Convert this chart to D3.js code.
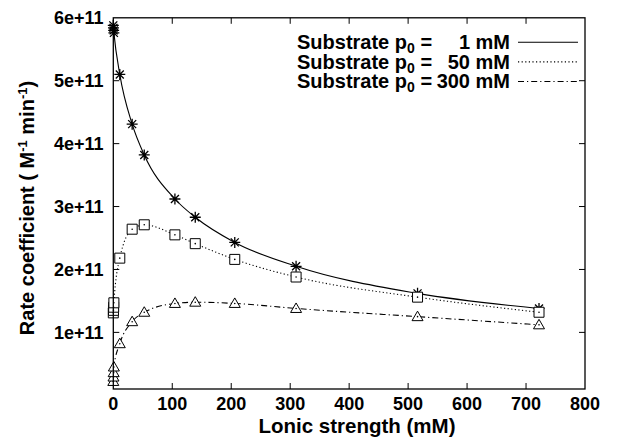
<!DOCTYPE html>
<html>
<head>
<meta charset="utf-8">
<script src="https://cdn.jsdelivr.net/npm/d3@7"></script>
<style>
  body { margin: 0; background: #fff; }
  text { font-family: "Liberation Sans", Arial, sans-serif; font-weight: bold; fill: #000; }
</style>
</head>
<body>
<div id="chart"></div>
<script>
// ionic strength (mM), the first four sit on top of each other near 0
const ionic = [0, 0.3, 0.6, 1, 11, 32, 52.5, 104.5, 139, 206, 310, 516, 722];

// rate coefficients for each substrate concentration
const rate1mM = [5.88e11, 5.84e11, 5.8e11, 5.76e11, 5.1e11, 4.31e11, 3.82e11, 3.12e11, 2.83e11, 2.43e11, 2.05e11, 1.62e11, 1.38e11];
const rate50mM = [1.31e11, 1.35e11, 1.4e11, 1.47e11, 2.18e11, 2.64e11, 2.71e11, 2.55e11, 2.41e11, 2.16e11, 1.88e11, 1.56e11, 1.32e11];
const rate300mM = [0.22e11, 0.29e11, 0.36e11, 0.45e11, 0.82e11, 1.17e11, 1.32e11, 1.46e11, 1.48e11, 1.46e11, 1.38e11, 1.25e11, 1.12e11];

const xTicks = [0, 100, 200, 300, 400, 500, 600, 700, 800];
const yTicks = [1e11, 2e11, 3e11, 4e11, 5e11, 6e11];
const legendValues = ["1 mM", "50 mM", "300 mM"];

const width = 618;
const height = 445;
const mLeft = 113.3, mRight = 585, mTop = 17.8, mBottom = 389;

const svg = d3
  .select("#chart")
  .append("svg")
  .attr("width", width)
  .attr("height", height);

const x = d3.scaleLinear().domain([0, 800]).range([mLeft, mRight]);
const y = d3.scaleLinear().domain([1e10, 6e11]).range([mBottom, mTop]);

// ticks, inward on all four sides
const tickLen = 6;
svg.selectAll(".xt")
  .data(xTicks.slice(1, -1))
  .enter()
  .append("path")
  .attr("d", (d) => `M${x(d)},${mBottom}v${-tickLen}M${x(d)},${mTop}v${tickLen}`)
  .attr("stroke", "#000")
  .attr("stroke-width", 1);

svg.selectAll(".yt")
  .data(yTicks.filter((d) => d < 6e11))
  .enter()
  .append("path")
  .attr("d", (d) => `M${mLeft},${y(d)}h${tickLen}M${mRight},${y(d)}h${-tickLen}`)
  .attr("stroke", "#000")
  .attr("stroke-width", 1);

svg.selectAll(".xl")
  .data(xTicks)
  .enter()
  .append("text")
  .attr("x", (d) => x(d))
  .attr("y", 410)
  .attr("text-anchor", "middle")
  .style("font-size", "18px")
  .text((d) => d);

svg.selectAll(".yl")
  .data(yTicks)
  .enter()
  .append("text")
  .attr("x", 103.5)
  .attr("y", (d) => y(d) + 6.5)
  .attr("text-anchor", "end")
  .style("font-size", "18px")
  .text((d) => d / 1e11 + "e+11");

// axis titles
svg.append("text")
  .attr("x", 357)
  .attr("y", 432.5)
  .attr("text-anchor", "middle")
  .style("font-size", "20.5px")
  .text("Lonic strength (mM)");

const yTitle = svg.append("text")
  .attr("transform", "translate(34,208) rotate(-90)")
  .attr("text-anchor", "middle")
  .style("font-size", "20px");
yTitle.append("tspan").text("Rate coefficient ( M");
yTitle.append("tspan").attr("dy", -7).style("font-size", "13px").text("-1");
yTitle.append("tspan").attr("dy", 7).text(" min");
yTitle.append("tspan").attr("dy", -7).style("font-size", "13px").text("-1");
yTitle.append("tspan").attr("dy", 7).text(")");

// series
const series = [
  { values: rate1mM, dash: null, marker: "star" },
  { values: rate50mM, dash: "1.2,2.4", marker: "square" },
  { values: rate300mM, dash: "6,3,1.2,3", marker: "triangle" },
];

const line = d3
  .line()
  .x((d) => x(d[0]))
  .y((d) => y(d[1]))
  .curve(d3.curveMonotoneX);

const markerPath = {
  star: "M-5.5,0H5.5M0,-5.5V5.5M-4,-4L4,4M-4,4L4,-4",
  square: "M-5,-5H5V5H-5Z",
  triangle: "M0,-5.5L5.5,4H-5.5Z",
};

series.forEach(function (s) {
  const pts = ionic.map((v, i) => [v, s.values[i]]);
  svg.append("path")
    .attr("d", line(pts))
    .attr("fill", "none")
    .attr("stroke", "#000")
    .attr("stroke-width", 1.1)
    .attr("stroke-dasharray", s.dash);

  const g = svg.append("g");
  g.selectAll("path")
    .data(pts)
    .enter()
    .append("path")
    .attr("transform", (d) => "translate(" + x(d[0]) + "," + y(d[1]) + ")")
    .attr("d", markerPath[s.marker])
    .attr("fill", s.marker === "star" ? "none" : "#fff")
    .attr("stroke", "#000")
    .attr("stroke-width", s.marker === "star" ? 1.3 : 1);
  if (s.marker !== "star") {
    g.selectAll("circle")
      .data(pts)
      .enter()
      .append("circle")
      .attr("cx", (d) => x(d[0]))
      .attr("cy", (d) => y(d[1]))
      .attr("r", 0.8)
      .attr("fill", "#000");
  }
});

// border
svg.append("rect")
  .attr("x", mLeft)
  .attr("y", mTop)
  .attr("width", mRight - mLeft)
  .attr("height", mBottom - mTop)
  .attr("fill", "none")
  .attr("stroke", "#000")
  .attr("stroke-width", 1.3);

// legend: one text block with a line per entry
const rowGap = 19.6;
const legendText = svg.append("text").style("font-size", "20px");

series.forEach(function (s, i) {
  const base = 49 + i * rowGap;
  legendText.append("tspan").attr("x", 297).attr("y", base).text("Substrate p");
  legendText.append("tspan").attr("dy", 4).style("font-size", "14px").text("0");
  legendText.append("tspan").attr("dy", -4).text(" =");
  legendText.append("tspan")
    .attr("x", 510)
    .attr("y", base)
    .attr("text-anchor", "end")
    .text(legendValues[i]);

  svg.append("line")
    .attr("x1", 518)
    .attr("x2", 578)
    .attr("y1", 42.3 + i * rowGap)
    .attr("y2", 42.3 + i * rowGap)
    .attr("stroke", "#000")
    .attr("stroke-width", 1.1)
    .attr("stroke-dasharray", s.dash);
});
</script>
</body>
</html>
